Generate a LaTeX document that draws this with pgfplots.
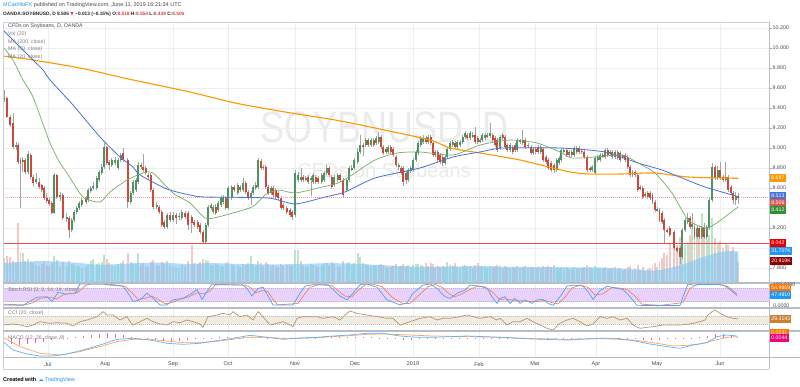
\documentclass[border=0pt]{standalone}
\usepackage{pgfplots}
\pgfplotsset{compat=1.18}
\usepackage{pgfplotstable}
\usepackage{fontspec}
\setmainfont{Liberation Sans}
\newfontfamily\symfont{DejaVu Sans}
\newcommand\fs[1]{\fontsize{#1}{#1}\selectfont}
\definecolor{upc}{HTML}{4F9363}
\definecolor{dnc}{HTML}{CB4A3B}
\definecolor{wickc}{HTML}{A3A3A3}
\definecolor{gridc}{HTML}{ECEEF1}
\definecolor{sepc}{HTML}{B8BCC4}
\definecolor{labc}{HTML}{4A4A4A}
\definecolor{ma200}{HTML}{FF9800}
\definecolor{ma50}{HTML}{4A72D4}
\definecolor{ma20}{HTML}{74AD66}
\definecolor{hline}{HTML}{EF4B4B}
\definecolor{closel}{HTML}{F2A0A0}
\definecolor{volup}{HTML}{BFE3C9}
\definecolor{voldn}{HTML}{F2C9C9}
\definecolor{vmac}{HTML}{7CC6F7}
\definecolor{stochband}{HTML}{E6CCFA}
\definecolor{kc}{HTML}{4EA3F2}
\definecolor{dc}{HTML}{F3875E}
\definecolor{cciband}{HTML}{F1ECE2}
\definecolor{ccic}{HTML}{B89468}
\definecolor{macdc}{HTML}{5FB4F5}
\definecolor{sigc}{HTML}{F7A55E}
\definecolor{histc}{HTML}{F3609A}
\definecolor{tvblue}{HTML}{2196F3}
\definecolor{hdred}{HTML}{D64541}

\pgfplotstableread{
x o h l c v
4.0 9.48 9.58 9.46 9.50 25
6.7 9.50 9.51 9.30 9.31 27
10.0 9.31 9.33 9.21 9.23 26
13.3 9.25 9.35 8.99 9.01 22
16.0 9.01 9.06 8.98 9.03 20
18.3 9.03 9.05 8.84 8.86 60
20.5 8.88 8.90 8.40 8.85 30
22.7 8.86 8.91 8.76 8.88 30
25.0 8.88 8.90 8.74 8.76 22
28.3 8.76 8.97 8.74 8.94 24
30.7 8.93 8.95 8.69 8.71 21
33.3 8.71 8.73 8.62 8.65 20
36.0 8.66 8.75 8.64 8.69 18
39.3 8.66 8.70 8.59 8.61 17
41.7 8.63 8.64 8.56 8.58 19
44.0 8.60 8.62 8.48 8.50 21
46.7 8.50 8.55 8.45 8.47 18
49.3 8.48 8.50 8.42 8.44 17
51.7 8.45 8.47 8.34 8.35 20
54.0 8.35 8.75 8.34 8.73 27
56.7 8.73 8.74 8.49 8.51 23
60.0 8.51 8.56 8.47 8.53 16
62.7 8.53 8.55 8.28 8.30 21
66.7 8.29 8.35 8.26 8.31 17
69.3 8.30 8.32 8.10 8.18 22
71.7 8.18 8.30 8.16 8.28 19
74.0 8.28 8.38 8.26 8.36 18
76.7 8.36 8.42 8.34 8.40 16
79.3 8.40 8.47 8.38 8.45 17
81.7 8.43 8.50 8.41 8.48 15
86.0 8.50 8.52 8.44 8.46 16
88.3 8.48 8.60 8.46 8.58 18
90.7 8.57 8.62 8.55 8.60 22
93.3 8.60 8.66 8.58 8.62 24
96.7 8.60 8.72 8.58 8.70 19
99.3 8.68 8.78 8.66 8.76 20
101.7 8.75 8.84 8.73 8.81 21
104.0 8.81 9.05 8.79 9.01 28
106.7 9.01 9.02 8.83 8.85 24
109.3 8.86 8.88 8.78 8.83 20
111.7 8.83 8.90 8.81 8.88 18
115.0 8.85 8.91 8.83 8.88 17
118.3 8.80 8.90 8.78 8.88 19
120.7 8.88 8.95 8.86 8.93 20
123.3 8.95 9.00 8.86 8.88 22
127.7 8.88 8.90 8.40 8.46 30
130.7 8.46 8.57 8.44 8.55 21
133.3 8.55 8.68 8.53 8.66 20
136.0 8.58 8.70 8.56 8.68 19
138.3 8.66 8.86 8.64 8.83 30
141.0 8.83 8.85 8.79 8.81 18
143.3 8.81 8.94 8.76 8.78 20
145.7 8.80 8.82 8.73 8.75 17
148.3 8.73 8.75 8.69 8.71 16
150.7 8.73 8.75 8.56 8.58 21
153.3 8.58 8.60 8.39 8.41 23
156.7 8.41 8.46 8.39 8.43 18
159.3 8.41 8.43 8.34 8.36 17
161.7 8.36 8.38 8.21 8.23 21
164.3 8.26 8.28 8.19 8.21 19
166.9 8.21 8.35 8.19 8.33 22
170.0 8.33 8.36 8.26 8.28 18
173.3 8.28 8.36 8.26 8.33 17
176.0 8.33 8.35 8.24 8.30 16
179.3 8.31 8.35 8.28 8.32 15
181.7 8.30 8.38 8.28 8.36 18
185.0 8.35 8.37 8.29 8.31 17
188.3 8.35 8.37 8.18 8.23 22
191.7 8.31 8.33 8.15 8.25 38
194.3 8.26 8.28 8.21 8.23 20
197.7 8.26 8.28 8.19 8.21 19
200.0 8.23 8.25 8.14 8.16 21
203.3 8.16 8.18 8.05 8.06 24
205.7 8.06 8.25 8.05 8.23 23
208.3 8.23 8.43 8.21 8.41 22
211.0 8.40 8.45 8.38 8.43 18
213.3 8.36 8.43 8.34 8.41 17
215.7 8.41 8.44 8.33 8.35 19
218.3 8.38 8.47 8.36 8.45 18
221.0 8.43 8.52 8.41 8.50 17
223.3 8.46 8.53 8.44 8.51 16
225.7 8.50 8.52 8.38 8.40 20
228.3 8.40 8.62 8.38 8.60 21
231.7 8.50 8.63 8.48 8.61 19
234.3 8.61 8.63 8.56 8.58 17
237.7 8.55 8.65 8.53 8.63 18
240.0 8.61 8.63 8.56 8.58 16
243.3 8.58 8.70 8.56 8.65 19
245.7 8.65 8.67 8.54 8.56 18
248.3 8.56 8.58 8.48 8.50 20
251.0 8.50 8.57 8.43 8.55 27
253.3 8.55 8.63 8.53 8.61 19
255.7 8.60 8.66 8.58 8.63 18
258.3 8.61 8.90 8.59 8.88 22
261.0 8.87 8.89 8.78 8.80 20
263.3 8.80 8.83 8.78 8.81 17
265.7 8.81 8.83 8.59 8.61 21
268.3 8.61 8.63 8.53 8.55 19
271.0 8.55 8.62 8.53 8.60 17
273.3 8.60 8.62 8.51 8.53 18
275.7 8.58 8.60 8.49 8.51 17
278.3 8.55 8.57 8.48 8.50 16
281.0 8.50 8.52 8.38 8.40 19
283.3 8.43 8.45 8.38 8.40 17
286.7 8.40 8.42 8.34 8.36 18
290.0 8.38 8.40 8.31 8.33 17
292.3 8.36 8.38 8.28 8.31 18
295.0 8.33 8.78 8.31 8.75 33
298.3 8.68 8.76 8.66 8.73 33
301.0 8.68 8.80 8.66 8.71 22
303.3 8.71 8.73 8.66 8.68 18
305.7 8.69 8.72 8.67 8.70 16
308.3 8.71 8.73 8.64 8.66 17
311.0 8.68 8.72 8.52 8.70 19
313.3 8.66 8.75 8.64 8.73 18
315.7 8.71 8.73 8.64 8.66 17
318.3 8.70 8.72 8.64 8.66 16
321.7 8.66 8.75 8.64 8.73 18
324.3 8.68 8.77 8.66 8.75 19
326.7 8.75 8.83 8.73 8.80 20
329.0 8.80 8.82 8.71 8.73 18
331.7 8.71 8.73 8.59 8.61 21
334.3 8.63 8.73 8.61 8.71 19
337.7 8.68 8.75 8.66 8.73 17
340.0 8.73 8.75 8.66 8.68 16
343.3 8.68 8.70 8.50 8.53 22
346.7 8.58 8.70 8.56 8.68 20
349.0 8.68 8.82 8.66 8.80 21
351.7 8.79 8.83 8.77 8.80 18
354.3 8.80 8.90 8.78 8.88 20
357.7 8.86 9.00 8.84 8.96 30
360.0 8.96 9.13 8.94 9.03 26
363.3 9.03 9.05 8.92 9.01 20
365.7 9.03 9.10 9.01 9.08 19
368.3 9.08 9.10 9.01 9.03 18
371.0 9.03 9.10 9.01 9.08 17
373.7 9.08 9.10 9.01 9.03 18
376.3 9.05 9.12 9.03 9.10 17
378.7 9.06 9.16 9.04 9.11 18
381.0 9.11 9.13 8.99 9.01 19
383.3 9.01 9.03 8.93 8.95 18
386.0 8.99 9.01 8.94 8.96 16
388.3 8.96 9.03 8.94 9.01 15
390.7 9.01 9.03 8.94 8.96 16
393.3 8.99 9.01 8.91 8.93 17
396.0 8.91 8.93 8.81 8.83 19
398.7 8.81 8.85 8.78 8.83 16
401.0 8.80 8.82 8.73 8.75 17
403.3 8.80 8.82 8.62 8.66 19
406.0 8.75 8.77 8.64 8.68 17
408.3 8.68 8.80 8.66 8.78 18
410.7 8.77 8.82 8.75 8.80 16
413.3 8.78 8.90 8.76 8.88 18
416.0 8.88 8.98 8.86 8.96 19
418.3 8.95 9.07 8.93 9.05 19
420.7 9.03 9.12 9.01 9.10 18
423.3 9.06 9.13 9.04 9.10 17
426.0 9.10 9.12 9.04 9.06 20
428.3 9.06 9.13 9.04 9.11 17
430.7 9.11 9.13 9.03 9.05 20
432.9 9.05 9.07 8.91 8.93 19
435.3 8.96 8.98 8.91 8.93 16
437.7 8.96 8.98 8.86 8.88 17
440.0 8.93 8.95 8.84 8.86 16
442.7 8.91 8.93 8.82 8.85 17
445.0 8.85 8.93 8.83 8.91 16
447.3 8.91 9.01 8.89 8.99 21
450.0 8.99 9.07 8.97 9.05 18
452.7 9.03 9.08 9.01 9.06 17
455.0 9.05 9.07 8.99 9.01 20
457.3 9.01 9.08 8.99 9.06 16
460.0 9.03 9.08 9.01 9.06 15
462.7 9.06 9.13 9.04 9.11 17
465.0 9.11 9.17 9.09 9.15 18
467.3 9.13 9.15 9.08 9.10 16
470.0 9.10 9.17 9.08 9.15 17
472.7 9.12 9.16 9.10 9.13 15
475.3 9.13 9.21 9.04 9.06 18
477.7 9.10 9.12 9.04 9.06 20
480.0 9.07 9.10 9.05 9.08 16
482.3 9.08 9.15 9.06 9.13 17
485.0 9.10 9.15 9.08 9.13 16
487.3 9.12 9.15 9.10 9.13 15
490.0 9.12 9.25 9.10 9.15 17
492.7 9.13 9.15 9.06 9.08 16
495.0 9.10 9.12 9.01 9.03 17
497.3 9.08 9.10 8.96 8.98 18
500.0 9.00 9.13 8.98 9.11 17
502.7 9.13 9.15 9.08 9.10 15
505.0 9.11 9.13 8.99 9.01 17
507.3 9.03 9.05 8.96 8.98 16
510.0 8.98 9.05 8.96 9.03 15
512.7 9.01 9.03 8.94 8.96 16
515.0 9.03 9.05 8.96 8.98 15
517.3 8.98 9.10 8.96 9.08 17
520.0 9.07 9.09 9.04 9.06 15
522.7 9.05 9.18 9.03 9.08 16
525.3 9.08 9.10 8.99 9.01 17
528.3 9.02 9.05 9.00 9.03 15
531.0 9.01 9.03 8.93 8.95 16
533.3 8.95 9.01 8.93 8.99 15
535.7 8.99 9.01 8.94 8.96 15
538.3 9.01 9.03 8.94 8.96 16
540.7 8.96 9.03 8.94 9.01 15
543.3 8.99 9.01 8.86 8.88 17
546.0 8.91 8.93 8.84 8.86 16
548.3 8.88 8.90 8.78 8.80 17
551.0 8.85 8.87 8.76 8.78 16
554.0 8.83 8.85 8.75 8.78 18
556.7 8.78 8.90 8.76 8.88 16
559.0 8.85 8.92 8.83 8.90 15
561.3 8.88 9.00 8.86 8.98 16
563.7 8.97 9.00 8.95 8.98 15
566.7 8.98 9.00 8.91 8.93 16
569.0 8.93 8.98 8.91 8.96 14
571.7 8.96 8.98 8.91 8.93 15
574.3 8.93 9.02 8.91 9.00 16
576.7 8.96 9.02 8.94 9.00 15
579.0 9.00 9.02 8.94 8.96 14
581.7 8.97 8.99 8.94 8.96 15
584.3 8.96 8.98 8.89 8.91 16
587.0 8.91 8.93 8.76 8.78 18
590.0 8.80 8.82 8.76 8.78 16
592.3 8.78 8.83 8.76 8.81 15
595.0 8.75 8.92 8.73 8.90 17
597.7 8.88 8.93 8.86 8.91 15
600.0 8.88 8.95 8.86 8.93 14
602.7 8.93 8.95 8.90 8.92 15
605.0 8.91 9.00 8.89 8.98 16
607.7 8.98 9.00 8.91 8.93 15
610.0 8.96 8.98 8.93 8.95 14
612.3 8.91 8.98 8.89 8.96 15
615.0 8.96 8.98 8.89 8.91 16
617.7 8.90 8.98 8.88 8.96 14
620.0 8.95 8.97 8.86 8.88 15
622.7 8.91 8.94 8.89 8.92 13
625.0 8.93 8.95 8.86 8.88 14
627.7 8.91 8.93 8.79 8.81 16
630.3 8.81 8.83 8.71 8.73 17
632.5 8.73 8.78 8.71 8.76 13
635.0 8.76 8.78 8.71 8.73 14
637.7 8.73 8.75 8.56 8.58 18
640.0 8.61 8.63 8.58 8.60 13
642.7 8.60 8.62 8.49 8.51 16
645.0 8.52 8.56 8.50 8.54 12
647.7 8.55 8.57 8.49 8.51 14
650.0 8.55 8.57 8.48 8.50 15
652.5 8.53 8.55 8.44 8.46 17
654.9 8.46 8.48 8.36 8.38 20
657.2 8.38 8.41 8.36 8.39 16
659.5 8.38 8.40 8.26 8.28 22
661.8 8.35 8.37 8.24 8.26 25
664.3 8.28 8.30 8.05 8.18 30
667.0 8.18 8.20 8.15 8.17 28
669.7 8.20 8.22 8.11 8.13 40
674.3 8.16 8.18 7.98 8.00 42
677.0 8.00 8.02 7.95 7.97 38
680.0 8.00 8.02 7.84 7.91 46
682.3 7.91 8.20 7.89 8.18 45
685.0 8.18 8.30 8.16 8.28 38
687.7 8.26 8.35 8.24 8.30 40
690.0 8.30 8.32 8.19 8.21 48
692.3 8.21 8.35 8.19 8.24 55
694.5 8.21 8.23 8.09 8.11 62
696.8 8.11 8.22 8.09 8.20 50
699.1 8.20 8.22 8.09 8.11 45
701.7 8.11 8.22 8.09 8.20 70
704.3 8.20 8.25 8.09 8.11 55
706.7 8.11 8.23 8.09 8.21 45
709.3 8.20 8.50 8.18 8.48 48
712.3 8.48 8.85 8.46 8.81 65
715.0 8.81 8.83 8.68 8.70 45
717.7 8.70 8.82 8.68 8.78 40
720.2 8.78 8.86 8.68 8.70 42
723.3 8.71 8.73 8.66 8.68 35
725.7 8.68 8.86 8.66 8.71 40
728.3 8.71 8.73 8.56 8.58 38
731.0 8.61 8.63 8.53 8.55 32
733.3 8.55 8.57 8.44 8.48 36
735.7 8.48 8.56 8.43 8.52 30
738.3 8.518 8.554 8.438 8.506 20.919
}\candles

\pgfplotsset{
 tvpane/.style={scale only axis, width=766pt, xmin=3, xmax=769,
   axis line style={draw=none}, xtick={48,105,173,228,295,355,413,479,535,596,657,720},
   xticklabels={}, xtick style={draw=none}, ytick=\empty,
   xmajorgrids, major grid style={draw=gridc, line width=0.6pt}},
 bare/.style={scale only axis, width=766pt, xmin=3, xmax=769,
   axis lines=none, ticks=none},
 wicks/.style={draw=none, mark=none, forget plot, error bars/.cd, y dir=both, y explicit,
   error mark=none, error bar style={draw=wickc, line width=0.5pt, solid}},
}

\begin{document}
\begin{tikzpicture}
\path[use as bounding box] (0pt,0pt) rectangle (800pt,386pt);
\fill[white] (0pt,0pt) rectangle (800pt,386pt);

% watermark
\node[text=gray!16, font=\fs{36}, yscale=1.22] at (385pt,256pt) {SOYBNUSD, D};
\node[text=gray!16, font=\fs{20}] at (384pt,214pt) {CFDs on Soybeans};

% main pane grid + price scale
\begin{axis}[tvpane, at={(3pt,364pt)}, anchor=north west, height=261pt, ymin=7.65, ymax=10.26,
  ytick={7.8,8.0,8.2,8.4,8.6,8.8,9.0,9.2,9.4,9.6,9.8,10.0,10.2},
  yticklabels={7.800,,8.200,,8.600,8.800,9.000,9.200,9.400,9.600,9.800,10.000,10.200},
  ymajorgrids, ytick pos=right, yticklabel pos=right, tick align=outside,
  major tick length=2.5pt, ytick style={draw=gray!70, line width=0.5pt},
  yticklabel style={font=\fs{5.3}, text=labc, anchor=west, inner sep=0pt, xshift=1pt}]
\end{axis}

% volume
\begin{axis}[bare, at={(3pt,103pt)}, anchor=south west, height=72pt, ymin=0, ymax=72]
\addplot[ycomb, draw=volup, line width=1.7pt, mark=none,
  restrict expr to domain={\thisrow{c}-\thisrow{o}}{0:5}] table[x=x, y=v] {\candles};
\addplot[ycomb, draw=voldn, line width=1.7pt, mark=none,
  restrict expr to domain={\thisrow{c}-\thisrow{o}}{-5:-0.000001}] table[x=x, y=v] {\candles};
\addplot[fill=vmac, fill opacity=0.58, draw=none] coordinates {
(3,20) (20,21) (40,22) (60,21.5) (80,20) (100,18) (120,19) (140,20) (160,20.5) (188,19)
(210,20) (240,19) (270,18.5) (300,19) (330,20) (360,19) (390,17.5) (420,16) (450,16.5)
(480,17) (510,16) (540,16) (570,15.5) (600,15.5) (630,14) (650,12.5) (660,13) (670,15)
(680,18) (690,21) (700,25) (710,28) (720,31) (730,32) (738.3,31.7)} \closedcycle;
\end{axis}

% candles and MAs
\begin{axis}[bare, at={(3pt,364pt)}, anchor=north west, height=261pt, ymin=7.65, ymax=10.26]
\draw[closel, line width=0.6pt, dash pattern=on 1pt off 1pt] (axis cs:3,8.506) -- (axis cs:769,8.506);
\draw[hline, line width=0.9pt] (axis cs:3,8.042) -- (axis cs:769,8.042);
\addplot[wicks] table[x=x, y expr={(\thisrow{h}+\thisrow{l})/2},
  y error plus expr={(\thisrow{h}-\thisrow{l})/2},
  y error minus expr={(\thisrow{h}-\thisrow{l})/2}] {\candles};
\addplot[draw=none, mark=none, forget plot,
  restrict expr to domain={\thisrow{c}-\thisrow{o}}{0:5},
  error bars/.cd, y dir=both, y explicit, error mark=none,
  error bar style={draw=upc, line width=1.7pt, solid}]
  table[x=x, y expr={(\thisrow{o}+\thisrow{c})/2},
  y error plus expr={max(abs(\thisrow{c}-\thisrow{o})/2,0.006)},
  y error minus expr={max(abs(\thisrow{c}-\thisrow{o})/2,0.006)}] {\candles};
\addplot[draw=none, mark=none, forget plot,
  restrict expr to domain={\thisrow{c}-\thisrow{o}}{-5:-0.000001},
  error bars/.cd, y dir=both, y explicit, error mark=none,
  error bar style={draw=dnc, line width=1.7pt, solid}]
  table[x=x, y expr={(\thisrow{o}+\thisrow{c})/2},
  y error plus expr={max(abs(\thisrow{c}-\thisrow{o})/2,0.006)},
  y error minus expr={max(abs(\thisrow{c}-\thisrow{o})/2,0.006)}] {\candles};
\addplot[ma200, line width=1.1pt, smooth, tension=0.4, mark=none] coordinates {
(3,9.92) (33,9.88) (80,9.80) (133,9.68) (190,9.56) (235,9.45) (285,9.36) (335,9.28)
(375,9.20) (430,9.08) (450,9.00) (480,8.95) (520,8.88) (553,8.80) (570,8.76) (588,8.74)
(622,8.74) (655,8.75) (688,8.71) (738.3,8.697)};
\addplot[ma50, line width=0.8pt, smooth, tension=0.4, mark=none] coordinates {
(3,10.18) (33,9.88) (43,9.78) (50,9.68) (73,9.43) (100,9.11) (120,8.91) (133,8.81) (140,8.73)
(167,8.59) (190,8.53) (205,8.51) (268,8.50) (295,8.44) (325,8.51) (345,8.56) (375,8.70)
(420,8.80) (453,8.91) (480,8.96) (503,9.00) (560,9.00) (605,8.96) (638,8.85) (662,8.78)
(682,8.70) (705,8.61) (738.3,8.513)};
\addplot[ma20, line width=0.7pt, smooth, tension=0.4, mark=none] coordinates {
(4,10.00) (13,9.88) (23,9.68) (33,9.51) (50,9.05) (60,8.85) (67,8.75) (83,8.51) (100,8.46)
(110,8.56) (127,8.68) (143,8.75) (153,8.75) (173,8.55) (190,8.45) (205,8.30) (218,8.31)
(252,8.41) (265,8.53) (278,8.58) (295,8.55) (318,8.60) (338,8.65) (352,8.73) (375,8.88)
(397,8.95) (420,8.96) (453,8.93) (480,9.03) (510,9.08) (537,9.05) (560,8.96) (572,8.90)
(595,8.91) (622,8.93) (638,8.85) (655,8.75) (672,8.55) (688,8.28) (702,8.21) (708,8.20)
(718,8.26) (738.3,8.412)};
\end{axis}

% Stoch RSI
\begin{axis}[tvpane, at={(3pt,103pt)}, anchor=north west, height=25pt, ymin=-9.1, ymax=104.5]
\fill[stochband, fill opacity=0.9] (axis cs:3,20) rectangle (axis cs:769,80);
\draw[gray!55, line width=0.4pt, dash pattern=on 1pt off 1pt] (axis cs:3,80) -- (axis cs:769,80);
\draw[gray!55, line width=0.4pt, dash pattern=on 1pt off 1pt] (axis cs:3,20) -- (axis cs:769,20);
\addplot[dc, line width=0.7pt, mark=none] coordinates {
(3,8) (25,5) (33,15) (40,35) (50,40) (57,32) (63,50) (70,57) (78,62) (85,92) (90,100) (105,100)
(113,97) (125,90) (133,55) (138,30) (145,35) (152,45) (158,30) (165,10) (172,15) (178,28)
(188,40) (197,60) (203,55) (210,68) (215,95) (222,98) (245,95) (250,85) (256,60) (262,70)
(268,65) (273,30) (278,5) (298,12) (304,50) (310,85) (318,97) (332,92) (338,70) (345,45)
(352,42) (358,70) (365,95) (372,100) (382,88) (392,40) (403,10) (410,12) (418,45) (428,88)
(435,98) (442,85) (450,52) (455,42) (462,55) (470,75) (477,90) (485,87) (492,65) (500,28)
(505,32) (512,28) (518,25) (525,22) (530,20) (537,20) (545,25) (552,15) (558,10) (565,40)
(572,82) (580,95) (588,85) (595,50) (603,55) (612,85) (622,80) (628,72) (635,45) (642,8)
(660,3) (683,15) (690,80) (697,97) (720,98) (728,88) (737,55)};
\addplot[kc, line width=0.7pt, mark=none] coordinates {
(3,5) (23,3) (30,22) (37,40) (47,42) (52,20) (58,62) (65,55) (75,55) (80,100) (85,100) (103,100)
(110,95) (123,90) (130,45) (133,20) (140,28) (147,58) (153,35) (160,5) (167,5) (173,28)
(183,35) (192,58) (197,75) (202,30) (207,65) (212,100) (217,97) (243,95) (247,80) (252,45)
(258,80) (263,85) (268,45) (273,5) (293,5) (300,58) (305,90) (313,97) (328,97) (333,75)
(340,45) (347,28) (353,58) (360,97) (367,100) (377,85) (387,28) (400,5) (407,15) (413,58)
(423,95) (430,100) (437,80) (445,42) (450,35) (458,60) (465,72) (470,95) (480,90) (487,80)
(492,42) (497,12) (500,35) (505,42) (510,12) (515,35) (520,12) (525,27) (532,12) (537,28)
(543,30) (548,12) (553,3) (560,42) (567,90) (573,95) (583,90) (588,65) (593,30) (600,70)
(607,90) (617,80) (623,75) (630,42) (637,3) (653,2) (680,2) (683,42) (688,100) (693,95)
(700,98) (717,98) (723,95) (730,75) (737,47.5)};
\end{axis}

% CCI
\begin{axis}[tvpane, at={(3pt,78pt)}, anchor=north west, height=23pt, ymin=-275, ymax=300]
\fill[cciband] (axis cs:3,-100) rectangle (axis cs:769,100);
\draw[gray!50, line width=0.4pt, dash pattern=on 1pt off 1pt] (axis cs:3,100) -- (axis cs:769,100);
\draw[gray!50, line width=0.4pt, dash pattern=on 1pt off 1pt] (axis cs:3,-100) -- (axis cs:769,-100);
\addplot[ccic, line width=0.7pt, mark=none] coordinates {
(3,-125) (13,-100) (20,-125) (27,-167) (33,-125) (40,-42) (50,-83) (57,-67) (67,-83) (73,-150)
(80,-42) (87,0) (97,83) (103,208) (107,125) (113,125) (120,0) (127,83) (130,-42) (133,-125)
(140,-42) (147,42) (153,-42) (160,-100) (167,-125) (173,-42) (180,-67) (187,0) (193,-42)
(200,-100) (203,-183) (208,83) (217,125) (223,167) (230,125) (233,208) (240,83) (247,125)
(253,0) (258,208) (263,83) (270,-125) (277,-83) (283,-42) (290,-125) (293,-167) (297,42)
(303,83) (317,83) (323,42) (333,83) (340,0) (347,167) (350,225) (357,167) (367,125) (377,83)
(387,42) (393,42) (400,-130) (410,-42) (420,42) (430,83) (437,0) (443,42) (450,42) (460,83)
(467,125) (473,83) (480,42) (490,83) (497,0) (500,42) (507,-125) (513,-42) (520,-42) (527,42)
(533,-42) (540,-125) (547,-208) (553,-250) (560,-83) (567,0) (573,42) (580,-42) (587,-150)
(593,-100) (600,83) (607,42) (613,83) (620,0) (627,42) (633,-125) (640,-208) (647,-183)
(653,-167) (663,-125) (673,-125) (680,-125) (690,-100) (700,-42) (705,0) (708,125) (712,208)
(715,250) (720,167) (727,83) (733,42) (738,29.3)};
\end{axis}

% MACD
\begin{axis}[tvpane, at={(3pt,55pt)}, anchor=north west, height=26.5pt, ymin=-0.192, ymax=0.073,
  xticklabels={Jul,Aug,Sep,Oct,Nov,Dec,2019,Feb,Mar,Apr,May,Jun},
  xticklabel style={font=\fs{5.5}, text=labc, yshift=-1pt}]
\addplot[ycomb, draw=histc, line width=0.9pt, mark=none] coordinates {
(3,-0.04) (11,-0.06) (19,-0.07) (27,-0.06) (35,-0.05) (43,-0.035) (51,-0.02) (59,-0.01)
(67,0.005) (75,0.015) (83,0.025) (91,0.035) (99,0.045) (107,0.05) (115,0.04) (123,0.03)
(131,0.015) (139,0.005) (147,-0.005) (155,-0.02) (163,-0.03) (171,-0.03) (179,-0.025)
(187,-0.02) (195,-0.01) (203,-0.005) (211,0.005) (219,0.01) (227,0.01) (235,0.01) (243,0.015)
(251,0.015) (259,0.01) (267,0.002) (275,-0.01) (283,-0.01) (291,-0.005) (299,0.003) (307,0.005)
(315,0.005) (323,0.01) (331,0.01) (339,0.01) (347,0.01) (355,0.01) (363,0.012) (371,0.01)
(379,0.008) (387,0.002) (395,-0.008) (403,-0.012) (411,-0.012) (419,-0.01) (427,-0.008)
(435,-0.005) (443,0.002) (451,0.003) (459,0.005) (467,0.005) (475,0.003) (483,0.002)
(491,-0.003) (499,-0.005) (507,-0.005) (515,-0.008) (523,-0.008) (531,-0.007) (539,-0.006)
(547,-0.005) (555,-0.004) (563,-0.003) (571,0.002) (579,0.003) (587,0.004) (595,0.005)
(603,0.005) (611,0.004) (619,0.002) (627,-0.004) (635,-0.008) (643,-0.012) (651,-0.015)
(659,-0.012) (667,-0.008) (675,-0.005) (683,0.002) (691,0.008) (699,0.015) (707,0.025)
(715,0.04) (723,0.045) (731,0.03) (737,0.01)};
\addplot[sigc, line width=0.7pt, mark=none] coordinates {
(3,0.01) (20,-0.083) (40,-0.15) (60,-0.167) (80,-0.133) (100,-0.083) (117,-0.033) (133,-0.01)
(150,-0.01) (167,-0.027) (183,-0.043) (200,-0.043) (217,-0.03) (233,-0.01) (250,0.01)
(267,0.01) (283,0) (300,0) (317,0.007) (333,0.017) (350,0.027) (367,0.04) (383,0.043)
(400,0.037) (433,0.023) (467,0.017) (500,0.01) (533,-0.003) (567,-0.01) (600,-0.003)
(633,-0.017) (653,-0.043) (673,-0.077) (687,-0.07) (700,-0.057) (713,-0.023) (727,0.01)
(737,0.017)};
\addplot[macdc, line width=0.7pt, mark=none] coordinates {
(3,-0.033) (13,-0.117) (27,-0.157) (40,-0.177) (53,-0.177) (67,-0.157) (83,-0.117)
(100,-0.067) (117,-0.01) (133,0) (150,-0.017) (167,-0.05) (183,-0.06) (200,-0.05)
(217,-0.023) (233,0) (250,0.03) (267,0.01) (283,-0.01) (300,0.003) (317,0.01) (333,0.023)
(350,0.033) (367,0.05) (383,0.05) (400,0.023) (417,0.01) (433,0.01) (467,0.023) (500,0.01)
(533,-0.007) (567,-0.017) (600,0) (617,0) (633,-0.023) (650,-0.057) (667,-0.083) (680,-0.1)
(693,-0.067) (707,-0.043) (717,0.017) (727,0.033) (737,0.023)};
\end{axis}

% frame and separators
\draw[sepc!70, line width=0.6pt] (3pt,364pt) -- (769pt,364pt);
\draw[sepc!70, line width=0.6pt] (3pt,364pt) -- (3pt,17pt) -- (769pt,17pt);
\draw[sepc, line width=0.6pt] (769pt,364pt) -- (769pt,17pt);
\foreach \yy in {103,78,55,28.5} {\draw[sepc, line width=1.2pt] (3pt,\yy pt) -- (800pt,\yy pt);}

% pane legends
\tikzset{lg/.style={anchor=west, font=\fs{5.3}, text=gray, inner sep=0pt}}
\node[lg, text=labc] at (8pt,360pt) {CFDs on Soybeans, D, OANDA};
\node[lg] at (8pt,352pt) {Vol (20)};
\node[lg] at (8pt,344.3pt) {MA (200, close)};
\node[lg] at (8pt,336.7pt) {MA (50, close)};
\node[lg] at (8pt,329.3pt) {MA (20, close)};
\node[lg] at (8pt,96pt) {Stoch RSI (3, 3, 14, 14, close)};
\node[lg] at (8pt,72.7pt) {CCI (20, close)};
\node[lg] at (8pt,47.7pt) {MACD (12, 26, close, 9)};

% header
\node[anchor=west, font=\fs{5.5}, text=labc, inner sep=0pt] at (3pt,381pt) {{\color{tvblue}MCarrilloFX} published on TradingView.com, June 11, 2019 16:21:34 UTC};
\node[anchor=west, font=\fs{4.8}\bfseries, text=black!85, inner sep=0pt] at (3pt,372pt) {OANDA:SOYBNUSD, D 8.506 {\color{hdred}\symfont\fs{4.5}▼} −0.013 (−0.15\%) O:{\color{hdred}8.518} H:{\color{hdred}8.554} L:{\color{hdred}8.438} C:{\color{hdred}8.506}};
% footer
\node[anchor=west, font=\fs{5.5}, inner sep=0pt] at (3pt,6pt) {\textbf{Created with} \hspace{1pt}{\color{tvblue}\symfont\fs{5}☁}\,{\color{tvblue}TradingView}};

% right-side scale texts
\node[anchor=west, font=\fs{5.3}, text=labc, inner sep=0pt] at (773pt,101.8pt) {100.0000};
\node[anchor=west, font=\fs{5.3}, text=labc, inner sep=0pt] at (773pt,80pt) {0.0000};
\tikzset{vlab/.style={anchor=west, font=\fs{5.2}, text=white, inner sep=1.2pt, minimum height=7.3pt}}
\node[vlab, fill=ma200] at (770pt,208pt) {8.697};
\node[vlab, fill=ma50] at (770pt,190pt) {8.513};
\node[vlab, fill=hdred!90] at (770pt,183pt) {8.506};
\node[vlab, fill=green!45!black!80] at (770pt,176pt) {8.412};
\node[vlab, fill=red!90!black] at (770pt,143pt) {8.042};
\node[vlab, fill=tvblue] at (770pt,135pt) {31.707K};
\node[vlab, fill=red!55!black] at (770pt,125pt) {20.919K};
\node[vlab, fill=orange!90!red] at (770pt,98pt) {54.9869};
\node[vlab, fill=tvblue] at (770pt,91pt) {47.4910};
\node[vlab, fill=brown!80!orange] at (770pt,67pt) {29.3143};
\node[vlab, fill=orange!90!red] at (770pt,53.5pt) {0.0231};
\node[vlab, fill=magenta!80!red] at (770pt,48pt) {0.0044};
\end{tikzpicture}
\end{document}
